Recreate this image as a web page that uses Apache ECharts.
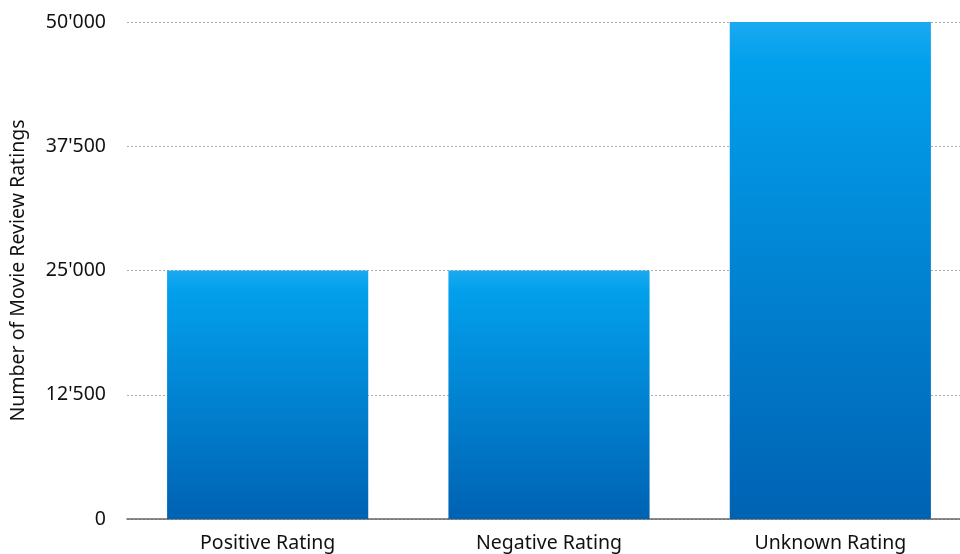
<!DOCTYPE html>
<html>
<head>
<meta charset="utf-8">
<script src="https://cdn.jsdelivr.net/npm/echarts@6/dist/echarts.min.js"></script>
<style>html,body{margin:0;padding:0;background:#fff;overflow:hidden;width:960px;height:554px}#c{width:975px;height:554px}</style>
</head>
<body>
<div id="c"></div>
<script>
const categories = ['Positive Rating', 'Negative Rating', 'Unknown Rating'];
const ratingCounts = [25000, 25000, 50000];
const yTicks = { min: 0, max: 50000, interval: 12500 };
const yTitle = 'Number of Movie Review Ratings';

const FONT = '"Noto Sans", "DejaVu Sans", sans-serif';
const chart = echarts.init(document.getElementById('c'), null, { renderer: 'canvas' });
chart.setOption({
  animation: false,
  backgroundColor: '#fff',
  grid: { left: 123, right: 4, top: 22, bottom: 35, containLabel: false },
  xAxis: {
    type: 'category',
    data: categories,
    axisLine: { lineStyle: { color: '#666', width: 1.5 } },
    axisTick: { show: false },
    axisLabel: { color: '#111', fontSize: 19.5, fontFamily: FONT, margin: 14 }
  },
  yAxis: {
    type: 'value',
    min: yTicks.min, max: yTicks.max, interval: yTicks.interval,
    name: yTitle,
    nameLocation: 'middle',
    nameGap: 99,
    nameTextStyle: { color: '#111', fontSize: 19.5, fontFamily: FONT },
    axisLine: { show: false },
    axisTick: { show: false },
    axisLabel: {
      color: '#111', fontSize: 19.5, fontFamily: FONT, margin: 21,
      formatter: v => String(v).replace(/\B(?=(\d{3})+(?!\d))/g, "'")
    },
    splitLine: { lineStyle: { color: '#aaa', type: [2, 2], width: 1 } }
  },
  series: [{
    type: 'bar',
    data: ratingCounts,
    barCategoryGap: '28.5%',
    itemStyle: {
      color: new echarts.graphic.LinearGradient(0, 0, 0, 1, [
        { offset: 0, color: '#1ba9f1' },
        { offset: 0.08, color: '#02a0ec' },
        { offset: 1, color: '#0062b3' }
      ])
    }
  }]
});
</script>
</body>
</html>
